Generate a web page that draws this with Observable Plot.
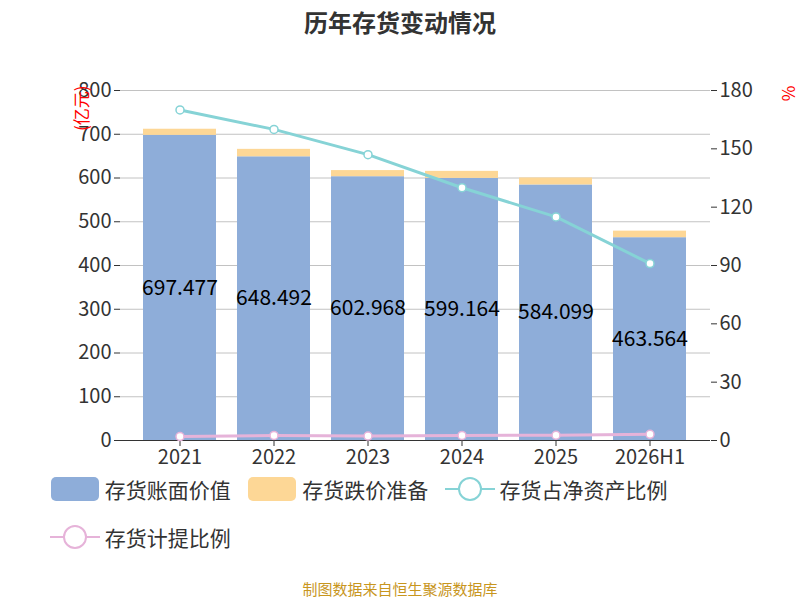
<!DOCTYPE html><html><head><meta charset="utf-8">
<script src="https://cdn.jsdelivr.net/npm/d3@7"></script>
<script src="https://cdn.jsdelivr.net/npm/@observablehq/plot@0.6"></script>
<style>body{margin:0;width:800px;height:600px;position:relative;font-family:"Noto Sans CJK SC","Noto Sans",sans-serif;background:#fff}
#t{position:absolute;top:4px;width:800px;text-align:center;font-size:24px;font-weight:bold;color:#333}
#c{position:absolute;top:50px;left:0}
#lg{position:absolute;top:472px;left:50px;width:740px;font-size:21px;color:#333}
.it{display:inline-flex;align-items:center;margin-right:12px;height:34px;margin-bottom:14px}
#src{position:absolute;top:578px;width:800px;text-align:center;font-size:15px;color:#c8961e}
</style></head><body>
<div id="t">历年存货变动情况</div><div id="c"></div>
<div id="lg">
<span class="it"><svg width="50" height="28"><rect x="1" y="2" width="48" height="24" rx="5" fill="#8eadd9"/></svg>&nbsp;存货账面价值</span>
<span class="it"><svg width="50" height="28"><rect x="1" y="2" width="48" height="24" rx="5" fill="#fdd796"/></svg>&nbsp;存货跌价准备</span>
<span class="it"><svg width="50" height="28"><line x1="0" y1="14" x2="50" y2="14" stroke="#86d3d6" stroke-width="2"/><circle cx="25" cy="14" r="11" fill="#fff" stroke="#86d3d6" stroke-width="2"/></svg>&nbsp;存货占净资产比例</span><br>
<span class="it"><svg width="50" height="28"><line x1="0" y1="14" x2="50" y2="14" stroke="#e6b3d9" stroke-width="2"/><circle cx="25" cy="14" r="11" fill="#fff" stroke="#e6b3d9" stroke-width="2"/></svg>&nbsp;存货计提比例</span>
</div>
<div id="src">制图数据来自恒生聚源数据库</div>
<script>
const years=["2021","2022","2023","2024","2025","2026H1"];
const bookValue=[697.477,648.492,602.968,599.164,584.099,463.564];
const reserve=[14,17,14,16,16,15];
const ratioNet=[170,160,147,130,115,91];
const ratioProv=[2.0,2.6,2.3,2.6,2.7,3.2];
const k=800/180;
const bars=[];years.forEach((y,i)=>{bars.push({y,s:"a",v:bookValue[i]});bars.push({y,s:"b",v:reserve[i]});});
const l1=years.map((y,i)=>({y,v:ratioNet[i]*k}));
const l2=years.map((y,i)=>({y,v:ratioProv[i]*k}));
const p=Plot.plot({width:800,height:430,marginTop:40,marginBottom:40,marginLeft:120,marginRight:90,
style:{fontSize:"20px",fontFamily:"Noto Sans CJK SC, Noto Sans, sans-serif",color:"#333"},
x:{domain:years,padding:0.22,label:null},
y:{domain:[0,800],ticks:d3.range(0,801,100),label:null},
color:{domain:["a","b"],range:["#8eadd9","#fdd796"]},
marks:[
Plot.gridY({ticks:d3.range(0,801,100),stroke:"#999",strokeOpacity:0.6}),
Plot.axisY({ticks:d3.range(0,801,100),tickSize:6,label:null,tickFormat:d=>d,fontSize:20}),
Plot.axisY({anchor:"right",ticks:d3.range(0,181,30).map(d=>d*k),tickFormat:d=>Math.round(d/k),tickSize:6,label:null,fontSize:20}),
Plot.barY(bars,{x:"y",y:"v",fill:"s",order:["a","b"]}),
Plot.ruleY([0],{stroke:"#333"}),
Plot.axisX({tickSize:6,label:null,fontSize:20}),
Plot.line(l1,{x:"y",y:"v",stroke:"#86d3d6",strokeWidth:3}),
Plot.dot(l1,{x:"y",y:"v",r:4,fill:"#fff",stroke:"#86d3d6",strokeWidth:1.5}),
Plot.line(l2,{x:"y",y:"v",stroke:"#e6b3d9",strokeWidth:3}),
Plot.dot(l2,{x:"y",y:"v",r:4,fill:"#fff",stroke:"#e6b3d9",strokeWidth:1.5}),
Plot.text(years,{x:d=>d,y:(d,i)=>bookValue[i]/2,text:(d,i)=>String(bookValue[i]),fill:"#000",fontSize:21}),
Plot.text(["(亿元)"],{frameAnchor:"top-left",dx:-45,dy:-5,rotate:-90,fill:"red",fontSize:17,textAnchor:"end"}),
Plot.text(["%"],{frameAnchor:"top-right",dx:72,dy:-5,rotate:-90,fill:"red",fontSize:17,textAnchor:"end"})
]});
document.getElementById("c").appendChild(p);
</script></body></html>
